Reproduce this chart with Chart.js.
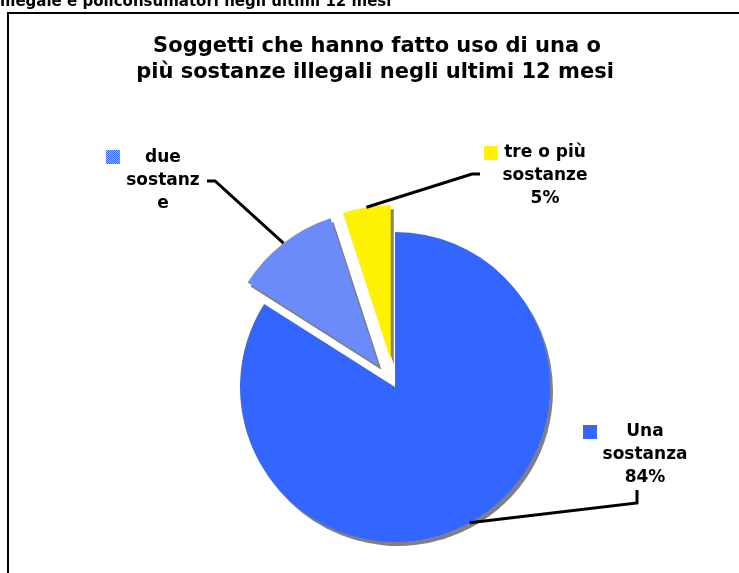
<!DOCTYPE html>
<html>
<head>
<meta charset="utf-8">
<script src="https://cdn.jsdelivr.net/npm/chart.js@4"></script>
<style>
  html, body { margin: 0; padding: 0; background: #fff; }
  #wrap { width: 739px; height: 573px; }
</style>
</head>
<body>
<div id="wrap"><canvas id="pie-chart" width="739" height="573"></canvas></div>
<script>
// data
const categories = ['Una sostanza', 'due sostanze', 'tre o più sostanze'];
const values = [84, 11, 5];
const sliceOffsets = [0, 27, 27];
const labelLines = [
    ['Una', 'sostanza', values[0] + '%'],
    ['due', 'sostanz', 'e'],
    ['tre o più', 'sostanze', values[2] + '%']
];
const titleLines = ['Soggetti che hanno fatto uso di una o', 'più sostanze illegali negli ultimi 12 mesi'];
const topCaption = 'illegale e policonsumatori negli ultimi 12 mesi';

// dithered light blue like the original
function makeDither() {
    const c = document.createElement('canvas');
    c.width = 2; c.height = 2;
    const g = c.getContext('2d');
    g.fillStyle = '#9cadff';
    g.fillRect(0, 0, 2, 2);
    g.fillStyle = '#3a6af8';
    g.fillRect(0, 0, 1, 1);
    g.fillRect(1, 1, 1, 1);
    return g.createPattern(c, 'repeat');
}
const dither = makeDither();
const sliceColors = ['#3366ff', dither, '#fff200'];

// label placement: text centre, legend key, leader elbow
const labelBoxes = [
    { cx: 645, y0: 432, key: [583, 425], elbow: [[637, 490], [637, 503]] },
    { cx: 163, y0: 158, key: [106, 150], elbow: [[207, 181], [215, 181]] },
    { cx: 545, y0: 153, key: [484, 146], elbow: [[480, 174], [472, 174]] }
];

// draws the arcs pulled out by sliceOffsets, with a flat grey shadow
const explodePlugin = {
    id: 'explode',
    beforeDatasetDraw(chart, args) {
        const ctx = chart.ctx;
        args.meta.data.forEach((arc, i) => {
            const mid = (arc.startAngle + arc.endAngle) / 2;
            ctx.save();
            ctx.shadowColor = '#808080';
            ctx.shadowOffsetX = 3;
            ctx.shadowOffsetY = 4;
            ctx.shadowBlur = 0;
            ctx.translate(Math.cos(mid) * sliceOffsets[i], Math.sin(mid) * sliceOffsets[i]);
            arc.draw(ctx);
            ctx.restore();
        });
        return false;
    }
};

const decorPlugin = {
    id: 'decor',
    afterDraw(chart) {
        const ctx = chart.ctx;
        ctx.save();

        // cut-off caption above the frame
        ctx.fillStyle = '#000';
        ctx.font = 'bold 15px "DejaVu Sans"';
        ctx.textAlign = 'left';
        ctx.textBaseline = 'alphabetic';
        ctx.fillText(topCaption, 0, 6);

        // frame
        ctx.strokeStyle = '#000';
        ctx.lineWidth = 2;
        ctx.strokeRect(8, 13, 800, 700);

        // title
        ctx.font = 'bold 21px "DejaVu Sans"';
        ctx.textAlign = 'center';
        ctx.textBaseline = 'middle';
        ctx.fillText(titleLines[0], 377, 47);
        ctx.fillText(titleLines[1], 375, 73);

        // labels + leaders
        const meta = chart.getDatasetMeta(0);
        ctx.font = 'bold 17px "DejaVu Sans"';
        labelBoxes.forEach((b, i) => {
            const arc = meta.data[i];
            const mid = (arc.startAngle + arc.endAngle) / 2;
            const r = arc.outerRadius + sliceOffsets[i];
            const ex = arc.x + Math.cos(mid) * r;
            const ey = arc.y + Math.sin(mid) * r;

            ctx.strokeStyle = '#000';
            ctx.lineWidth = 3;
            ctx.beginPath();
            ctx.moveTo(b.elbow[0][0], b.elbow[0][1]);
            ctx.lineTo(b.elbow[1][0], b.elbow[1][1]);
            ctx.lineTo(ex, ey);
            ctx.stroke();

            ctx.fillStyle = sliceColors[i];
            ctx.fillRect(b.key[0], b.key[1], 14, 14);

            ctx.fillStyle = '#000';
            labelLines[i].forEach((t, j) => {
                ctx.fillText(t, b.cx, b.y0 + j * 23);
            });
        });
        ctx.restore();
    }
};

new Chart(document.getElementById('pie-chart'), {
    type: 'pie',
    data: {
        labels: categories,
        datasets: [{
            data: values,
            backgroundColor: sliceColors,
            borderWidth: 0,
            clip: false
        }]
    },
    options: {
        responsive: false,
        animation: false,
        events: [],
        radius: 155,
        layout: { padding: { left: 100, right: 49, top: 220, bottom: 19 } },
        plugins: {
            legend: { display: false },
            title: { display: false },
            tooltip: { enabled: false }
        }
    },
    plugins: [explodePlugin, decorPlugin]
});
</script>
</body>
</html>
